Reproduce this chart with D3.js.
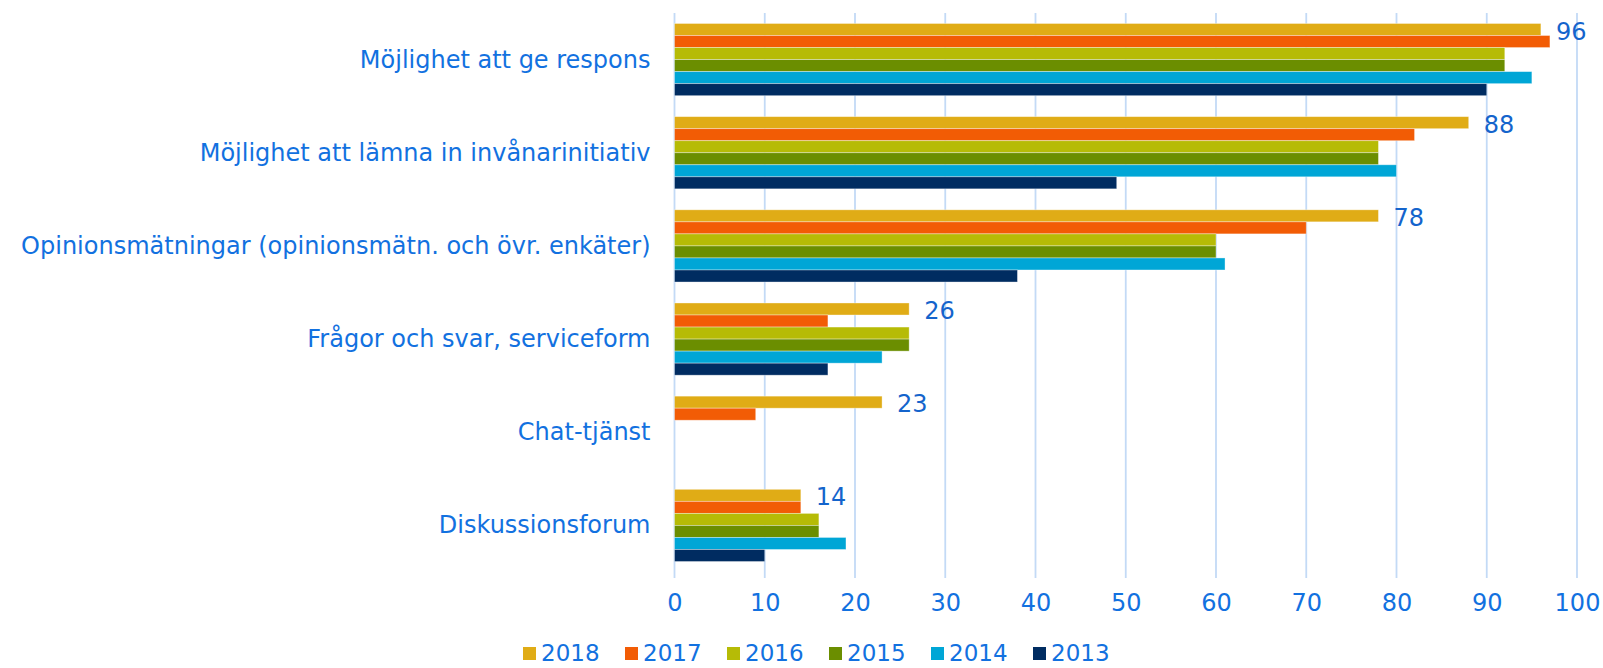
<!DOCTYPE html>
<html>
<head>
<meta charset="utf-8">
<script src="https://cdn.jsdelivr.net/npm/d3@7"></script>
<style>
  html, body { margin: 0; padding: 0; background: #fff; }
  svg { display: block; font-family: "DejaVu Sans", Verdana, sans-serif; }
</style>
</head>
<body>
<div id="chart"></div>
<script>
// ---------- data ----------
const categories = [
  'Möjlighet att ge respons',
  'Möjlighet att lämna in invånarinitiativ',
  'Opinionsmätningar (opinionsmätn. och övr. enkäter)',
  'Frågor och svar, serviceform',
  'Chat-tjänst',
  'Diskussionsforum'
];
const years = ['2018', '2017', '2016', '2015', '2014', '2013'];
const v2018 = [96, 88, 78, 26, 23, 14];
const v2017 = [97, 82, 70, 17, 9, 14];
const v2016 = [92, 78, 60, 26, null, 16];
const v2015 = [92, 78, 60, 26, null, 16];
const v2014 = [95, 80, 61, 23, null, 19];
const v2013 = [90, 49, 38, 17, null, 10];
const xTicks = [0, 10, 20, 30, 40, 50, 60, 70, 80, 90, 100];

const seriesValues = [v2018, v2017, v2016, v2015, v2014, v2013];
const colors = ['#E0AC16', '#F25C05', '#B6BB06', '#6B8E00', '#00A6D6', '#002C61'];

const W = 1603, H = 668;
const margin = { left: 674.5, right: 26, top: 13, bottom: 96 };

const svg = d3.select('#chart').append('svg')
  .attr('width', W).attr('height', H);

const x = d3.scaleLinear().domain([0, 100]).range([margin.left, W - margin.right]);
const y0 = d3.scaleBand().domain(categories)
  .range([margin.top, H - margin.bottom])
  .paddingInner(0.225).paddingOuter(0.1125);
const y1 = d3.scaleBand().domain(years).range([0, y0.bandwidth()]);

const textBlue = '#1271E0';
const fs = 24;

// ---------- grid ----------
svg.append('g').selectAll('line')
  .data(xTicks)
  .join('line')
  .attr('x1', d => x(d)).attr('x2', d => x(d))
  .attr('y1', margin.top).attr('y2', H - margin.bottom + 6)
  .attr('stroke', '#C3DAF6')
  .attr('stroke-width', 1.8);

// ---------- bars ----------
const groups = svg.append('g').selectAll('g')
  .data(categories)
  .join('g')
  .attr('transform', c => `translate(0,${y0(c)})`);

groups.selectAll('rect')
  .data((c, i) => years.map((yr, s) => ({ yr, s, v: seriesValues[s][i] })).filter(d => d.v != null))
  .join('rect')
  .attr('x', x(0))
  .attr('y', d => y1(d.yr))
  .attr('width', d => x(d.v) - x(0))
  .attr('height', y1.bandwidth())
  .attr('fill', d => colors[d.s])
  .attr('stroke', 'rgba(255,255,255,0.45)')
  .attr('stroke-width', 0.8);

// data labels on 2018 only
groups.append('text')
  .attr('x', (c, i) => x(v2018[i]) + 15)
  .attr('y', y1('2018') + y1.bandwidth() / 2 + 2)
  .attr('dominant-baseline', 'central')
  .attr('fill', '#1464CC')
  .attr('font-size', fs)
  .text((c, i) => v2018[i]);

// ---------- category labels ----------
svg.append('g').selectAll('text')
  .data(categories)
  .join('text')
  .attr('x', margin.left - 24)
  .attr('y', c => y0(c) + y0.bandwidth() / 2)
  .attr('text-anchor', 'end')
  .attr('dominant-baseline', 'central')
  .attr('fill', textBlue)
  .attr('font-size', fs)
  .text(c => c);

// ---------- x axis ----------
const xAxis = svg.append('g')
  .attr('transform', `translate(0,${H - margin.bottom})`)
  .call(d3.axisBottom(x).tickValues(xTicks).tickSize(0).tickPadding(22));
xAxis.select('.domain').remove();
xAxis.selectAll('text')
  .attr('fill', textBlue)
  .attr('font-size', fs)
  .attr('font-family', '"DejaVu Sans", Verdana, sans-serif');

// ---------- legend ----------
const legend = svg.append('g').selectAll('g')
  .data(years)
  .join('g')
  .attr('transform', (d, i) => `translate(${523 + i * 102},653)`);
legend.append('rect')
  .attr('x', 0).attr('y', -6).attr('width', 13).attr('height', 13)
  .attr('fill', (d, i) => colors[i]);
legend.append('text')
  .attr('x', 18).attr('y', 0)
  .attr('dominant-baseline', 'central')
  .attr('fill', textBlue)
  .attr('font-size', 23)
  .text(d => d);
</script>
</body>
</html>
